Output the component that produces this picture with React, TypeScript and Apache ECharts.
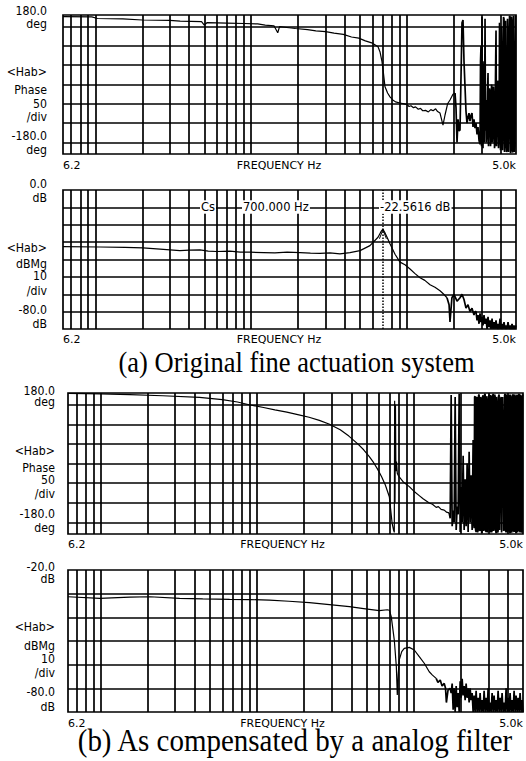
import React, { useEffect, useRef } from "react";
import * as echarts from "echarts";

// ---------- data ----------
const gridFreqs = [7, 8, 9, 10, 20, 30, 40, 50, 60, 70, 80, 90, 100, 200, 300, 400, 500, 600, 700, 800, 900, 1000, 2000, 3000, 4000];
const phaseLines = [-150, -100, -50, 0, 50, 100, 150];
const magALines = [-70, -60, -50, -40, -30, -20, -10];
const magBLines = [-70, -60, -50, -40, -30];

const freqMin = 6.2;
const freqMax = 5000;
const freqMinLabel = "6.2";
const freqMaxLabel = "5.0k";
const freqName = "FREQUENCY Hz";

const phaseLabels = ["180.0", "deg", "<Hab>", "Phase", "50", "/div", "-180.0", "deg"];
const magALabels = ["0.0", "dB", "<Hab>", "dBMg", "10", "/div", "-80.0", "dB"];
const magBLabels = ["-20.0", "dB", "<Hab>", "dBMg", "10", "/div", "-80.0", "dB"];

const cursorFreq = 700;
const cursorDb = -22.5616;
const cursorTexts = ["Cs", "700.000 Hz", "-22.5616 dB"];

const captionA = "(a) Original fine actuation system";
const captionB = "(b) As compensated by a analog filter";

// (a) phase, [Hz, deg]
const phaseA: [number, number][] = [
  [6.2, 176], [9.5, 175], [10.3, 171], [15, 170], [20, 167], [30, 166], [35, 164], [48, 163], [50, 154], [52, 160],
  [70, 159], [90, 158], [110, 157], [123, 154], [140, 152], [148, 134], [152, 150], [175, 147], [192, 145], [230, 142],
  [260, 139], [300, 137], [340, 133], [390, 130], [440, 123], [490, 120], [540, 113], [600, 107], [651, 98], [670, 85],
  [690, 60], [705, 30], [722, -6], [750, -22], [777, -32], [810, -40], [843, -45], [900, -48], [960, -50], [1000, -52],
  [1030, -57], [1060, -55], [1100, -60], [1134, -58], [1180, -64], [1220, -62], [1260, -68], [1315, -67], [1370, -71],
  [1420, -65], [1470, -68], [1525, -63], [1570, -70], [1627, -74], [1700, -105], [1752, -79], [1820, -50], [1886, -40],
  [1970, -25], [2031, -22],
];
const phaseANoise: [number, number][] = [
  [2031, -22], [2061, -60], [2092, -150], [2123, -90], [2154, -120], [2186, -118], [2219, 20], [2252, 160], [2285, 167],
  [2319, 60], [2354, -6], [2389, -70], [2424, -100], [2460, -85], [2497, -74], [2534, -95], [2572, -80], [2610, -74],
  [2649, -110], [2688, -90], [2729, -113], [2769, -100], [2811, -129], [2852, -110], [2895, -145], [2938, -155],
  [2960, 60], [2982, 100], [3004, -160], [3026, 175], [3048, -150], [3071, -165], [3094, 20], [3117, 60], [3140, -150],
  [3164, 170], [3187, -120], [3211, -40], [3235, -150], [3259, -129], [3283, -20], [3307, 30], [3331, -160], [3356, -100],
  [3381, -10], [3406, -20], [3431, -160], [3457, -140], [3483, 0], [3509, -10], [3535, -150], [3561, -120], [3587, -5],
  [3614, -40], [3640, -165], [3667, -150], [3694, 20], [3722, 140], [3750, -160], [3778, -90], [3806, 10], [3834, -10],
  [3862, -165], [3891, -140], [3920, 160], [3949, -30], [3978, -170], [4008, -160], [4037, 150], [4067, 40],
  [4097, -170], [4128, -120], [4158, 175], [4189, 170], [4220, -175], [4251, -150], [4283, 165], [4315, -50],
  [4347, -175], [4379, -170], [4411, 170], [4444, 120], [4477, -175], [4510, -100], [4543, 178], [4577, 175],
  [4611, -178], [4646, -165], [4680, 176], [4715, 160], [4750, -176], [4785, -170], [4820, 178], [4856, 178],
  [4892, -175], [4929, -160], [4965, 178], [5000, 175],
];

// (a) magnitude, [Hz, dB]
const magA: [number, number][] = [
  [6.2, -32.6], [10.7, -32.8], [15.5, -33], [20.2, -33.3], [26, -34], [34.9, -34.9], [40, -34.6], [46.9, -34.5],
  [53, -35.2], [60, -35.4], [73, -35.2], [85, -35.7], [98, -35.8], [120, -36], [142, -36.2], [170, -35.8], [206, -36],
  [240, -36.3], [276, -36.5], [320, -36.2], [371, -36.8], [430, -36], [499, -34.9], [578, -32], [651, -27.2], [680, -24],
  [700, -22.56], [720, -24.5], [744, -27.2], [777, -31], [837, -37], [901, -41.5], [970, -43], [1045, -45.5],
  [1120, -48], [1211, -50.5], [1300, -52], [1404, -54.5], [1510, -56], [1627, -58], [1720, -60], [1804, -62],
];
const magANoise: [number, number][] = [
  [1804, -62], [1860, -66], [1886, -76], [1940, -62], [2000, -60], [2092, -64], [2186, -62], [2252, -60], [2319, -63],
  [2389, -68], [2460, -66], [2534, -70], [2610, -68], [2688, -72], [2729, -70],
  [2769, -70], [2811, -75], [2852, -72], [2895, -77], [2938, -71], [2982, -76], [3026, -73], [3071, -78], [3117, -72],
  [3164, -77], [3211, -74], [3259, -80], [3307, -73], [3356, -79], [3406, -75], [3457, -80], [3509, -74], [3561, -80],
  [3614, -76], [3667, -80], [3722, -75], [3778, -80], [3834, -77], [3891, -80], [3949, -74], [4008, -80], [4067, -77],
  [4128, -80], [4189, -76], [4251, -80], [4315, -78], [4379, -80], [4444, -76], [4510, -80], [4577, -78], [4646, -80],
  [4715, -77], [4785, -80], [4856, -78], [4929, -80], [5000, -78],
];

// (b) phase, [Hz, deg]
const phaseB: [number, number][] = [
  [6.2, 179], [8, 178.5], [10, 178], [15.4, 176], [25, 173], [42.9, 169], [60, 163], [75, 157], [89, 150], [110, 143],
  [130, 137], [155, 131], [185, 124], [215, 118], [250, 110], [288, 101], [340, 86], [386, 70], [440, 50], [480, 35],
  [520, 18], [556, 2], [590, -15], [625, -34], [660, -55], [700, -85], [729, -152], [745, -170], [753, -176],
  [757, 160], [761, -100], [766, 150], [771, -20], [778, 5], [787, -25], [797, -30], [810, -34], [864, -48],
  [939, -59], [1000, -70], [1087, -82], [1150, -90], [1259, -101], [1320, -104], [1394, -112], [1440, -110],
  [1500, -117], [1569, -119], [1620, -124], [1688, -126],
];
const phaseBNoise: [number, number][] = [
  [1688, -126], [1713, -140], [1738, 175], [1764, -160], [1790, -120], [1816, -150], [1843, 170], [1871, -170],
  [1898, -110], [1926, -130], [1955, 178], [1984, -175], [2013, -60], [2043, -150], [2073, 20], [2104, -170],
  [2135, -40], [2166, -160], [2198, 0], [2231, -175], [2264, 30], [2297, -150], [2331, -30], [2366, -170], [2401, 60],
  [2418, -150], [2436, -165], [2454, 170], [2472, 172], [2490, -170], [2509, -175], [2527, 168], [2546, 170],
  [2565, -176], [2584, -170], [2603, 174], [2622, 176], [2641, -170], [2661, -172], [2680, 170], [2700, 165],
  [2720, -176], [2740, -178], [2760, 170], [2781, 174], [2801, -172], [2822, -168], [2843, 176], [2864, 178],
  [2885, -170], [2906, -175], [2927, 172], [2949, 160], [2971, -176], [2993, -160], [3015, 170], [3037, 176],
  [3060, -170], [3082, -176], [3105, 175], [3128, 170], [3151, -176], [3174, -170], [3197, 170], [3221, 178],
  [3245, -172], [3269, -165], [3293, 176], [3317, 172], [3341, -170], [3366, -178], [3391, 170], [3416, 150],
  [3441, -176], [3467, -172], [3492, 172], [3518, 176], [3544, -170], [3570, -60], [3596, 160], [3623, 170],
  [3649, -176], [3676, -175], [3703, 170], [3731, 100], [3758, -172], [3786, -170], [3814, 174], [3842, 178],
  [3870, -170], [3899, -176], [3928, 176], [3957, 172], [3986, -176], [4015, -170], [4045, 170], [4075, 176],
  [4105, -172], [4135, -178], [4165, 176], [4196, 168], [4227, -176], [4259, -172], [4290, 170], [4322, 177],
  [4354, -170], [4386, -175], [4418, 176], [4451, 172], [4484, -172], [4517, -178], [4550, 170], [4583, 176],
  [4617, -176], [4651, -170], [4685, 172], [4720, 178], [4755, -170], [4790, -176], [4825, 176], [4861, 170],
  [4897, -176], [4933, -174], [4966, 172], [5000, 176],
];

// (b) magnitude, [Hz, dB]
const magB: [number, number][] = [
  [6.2, -31.3], [9.9, -32], [15.4, -31.5], [20.7, -31.3], [32, -32], [45, -32.2], [66.8, -32.4], [90, -32.5],
  [120, -32.7], [160, -33.2], [216, -33.8], [290, -34.6], [389, -35.5], [480, -36.3], [604, -37.2], [680, -36.8],
  [700, -37], [720, -39.7], [753, -49.6], [776, -60.9], [787, -72.8], [798, -64], [810, -58], [840, -54.5],
  [872, -53.1], [939, -52.7], [1010, -53.8], [1087, -56.6], [1170, -59.4], [1259, -63], [1320, -64.4], [1394, -65.8],
];
const magBNoise: [number, number][] = [
  [1394, -65.8], [1430, -67.5], [1480, -66.5], [1520, -69], [1569, -67.9], [1600, -70], [1620, -76], [1660, -70.7],
  [1713, -70], [1738, -72],
  [1764, -68], [1790, -79], [1816, -70], [1843, -80], [1871, -69], [1898, -78], [1926, -72], [1955, -80], [1984, -67],
  [2013, -74], [2043, -66], [2073, -73], [2104, -69], [2135, -75], [2166, -68], [2198, -74], [2231, -70], [2264, -76],
  [2297, -70], [2331, -75], [2366, -72], [2401, -80], [2436, -73], [2472, -80], [2509, -71], [2546, -80], [2584, -74],
  [2622, -80], [2661, -72], [2700, -80], [2740, -75], [2781, -80], [2822, -71], [2864, -80], [2906, -74], [2949, -80],
  [2993, -70], [3037, -80], [3082, -76], [3128, -80], [3174, -72], [3221, -80], [3269, -73], [3317, -80], [3366, -75],
  [3416, -80], [3467, -71], [3518, -80], [3570, -74], [3623, -80], [3676, -72], [3731, -80], [3786, -76], [3842, -80],
  [3899, -70], [3957, -80], [4015, -74], [4075, -80], [4135, -72], [4196, -80], [4259, -75], [4322, -80], [4386, -71],
  [4451, -80], [4517, -73], [4583, -80], [4651, -74], [4720, -80], [4790, -72], [4861, -80], [4933, -75], [5000, -80],
];

// ---------- layout ----------
const PLOT_FONT = '"DejaVu Sans"';
const grids = [
  { left: 63, top: 15, width: 453, height: 139 },
  { left: 63, top: 190, width: 453, height: 139 },
  { left: 68, top: 393, width: 456, height: 141 },
  { left: 68, top: 570, width: 456, height: 142 },
];
const yRanges = [
  [-180, 180],
  [-80, 0],
  [-180, 180],
  [-80, -20],
];
const labelMargins = [6, 5, 5, 6];
const namePad = [21, 21, 26, 26];
const sideLabelX = [47, 47, 55, 55];
const sideLabelY = [
  [11, 24, 72, 90, 104, 117, 136, 150],
  [184, 198, 247.5, 264, 276, 291, 309.5, 324],
  [391, 402, 451, 467.5, 480, 494, 514, 528],
  [567, 579, 627, 646, 659, 673, 692, 707],
];

export default function App() {
  const ref = useRef<HTMLDivElement>(null);

  useEffect(() => {
    document.body.style.margin = "0";
    if (!ref.current) return;
    const chart = echarts.init(ref.current, undefined, { renderer: "svg" });

    const seriesData = [phaseA, magA, phaseB, magB];
    const noiseData = [phaseANoise, magANoise, phaseBNoise, magBNoise];
    const hLines = [phaseLines, magALines, phaseLines, magBLines];
    const sideLabels = [phaseLabels, magALabels, phaseLabels, magBLabels];

    const series: any[] = [];
    seriesData.forEach((d, i) => {
      const vLines: any[] = gridFreqs
        .filter((f) => !(i === 1 && f === cursorFreq))
        .map((f) => ({ xAxis: f }));
      if (i === 1) vLines.push({ xAxis: cursorFreq, lineStyle: { type: "dotted", width: 1.5, color: "#000" } });
      const s: any = {
        type: "line",
        xAxisIndex: i,
        yAxisIndex: i,
        data: d,
        symbol: "none",
        showSymbol: false,
        silent: true,
        clip: true,
        lineStyle: { color: "#000", width: 1.2 },
        markLine: {
          silent: true,
          symbol: ["none", "none"],
          label: { show: false },
          lineStyle: { color: "#000", width: 1.7, type: "solid" },
          emphasis: { disabled: true },
          data: [...vLines, ...hLines[i].map((v) => ({ yAxis: v }))],
        },
      };
      if (i === 1) {
        s.markPoint = {
          silent: true,
          symbol: "path://M0 10 L5 0 L10 10",
          symbolSize: [7, 9],
          symbolOffset: [0, 5],
          itemStyle: { color: "transparent", borderColor: "#000", borderWidth: 1 },
          label: { show: false },
          data: [{ coord: [cursorFreq, cursorDb] }],
        };
      }
      series.push(s);
      series.push({
        type: "line",
        xAxisIndex: i,
        yAxisIndex: i,
        data: noiseData[i],
        symbol: "none",
        showSymbol: false,
        silent: true,
        clip: true,
        lineStyle: { color: "#000", width: 1.7 },
      });
    });

    const graphic: any[] = [];
    sideLabels.forEach((labels, i) => {
      labels.forEach((t, k) => {
        graphic.push({
          type: "text",
          x: sideLabelX[i],
          y: sideLabelY[i][k],
          scaleY: 1.12,
          silent: true,
          style: { text: t, fill: "#000", font: `11px ${PLOT_FONT}`, align: "right", verticalAlign: "middle" },
        });
      });
    });
    const annX = [200, 242, 379];
    cursorTexts.forEach((t, k) => {
      graphic.push({
        type: "text",
        x: annX[k],
        y: 207,
        scaleY: 1.12,
        z: 100,
        silent: true,
        style: {
          text: t,
          fill: "#000",
          font: `11.5px ${PLOT_FONT}`,
          align: "left",
          verticalAlign: "middle",
          backgroundColor: "#fff",
          padding: [0, 1, 0, 1],
        },
      });
    });
    graphic.push({
      type: "text",
      x: 296.5,
      y: 361.5,
      scaleY: 1.12,
      silent: true,
      style: { text: captionA, fill: "#000", font: '26.5px "Liberation Serif"', align: "center", verticalAlign: "middle" },
    });
    graphic.push({
      type: "text",
      x: 295,
      y: 740,
      scaleY: 1.12,
      silent: true,
      style: { text: captionB, fill: "#000", font: '29px "Liberation Serif"', align: "center", verticalAlign: "middle" },
    });

    chart.setOption({
      animation: false,
      backgroundColor: "#fff",
      grid: grids.map((g) => ({ ...g, show: true, borderColor: "#000", borderWidth: 1.7, containLabel: false })),
      xAxis: grids.map((_, i) => ({
        type: "log",
        logBase: 10,
        gridIndex: i,
        min: freqMin,
        max: freqMax,
        axisLine: { show: false },
        axisTick: { show: false },
        splitLine: { show: false },
        minorTick: { show: false },
        axisLabel: {
          show: true,
          color: "#000",
          fontFamily: PLOT_FONT,
          fontSize: 11,
          margin: labelMargins[i],
          showMinLabel: true,
          showMaxLabel: true,
          alignMinLabel: "left",
          alignMaxLabel: "right",
          formatter: (v: number) => (v < 7 ? freqMinLabel : v > 4500 ? freqMaxLabel : ""),
        },
        name: freqName,
        nameLocation: "middle",
        nameGap: labelMargins[i],
        nameMoveOverlap: false,
        nameTextStyle: {
          color: "#000",
          fontFamily: PLOT_FONT,
          fontSize: 11,
          verticalAlign: "top",
          padding: [0, namePad[i], 0, 0],
        },
      })),
      yAxis: grids.map((_, i) => ({
        type: "value",
        gridIndex: i,
        min: yRanges[i][0],
        max: yRanges[i][1],
        axisLine: { show: false },
        axisTick: { show: false },
        axisLabel: { show: false },
        splitLine: { show: false },
      })),
      series,
      graphic,
    });

    return () => chart.dispose();
  }, []);

  return <div ref={ref} style={{ width: 526, height: 761 }} />;
}
